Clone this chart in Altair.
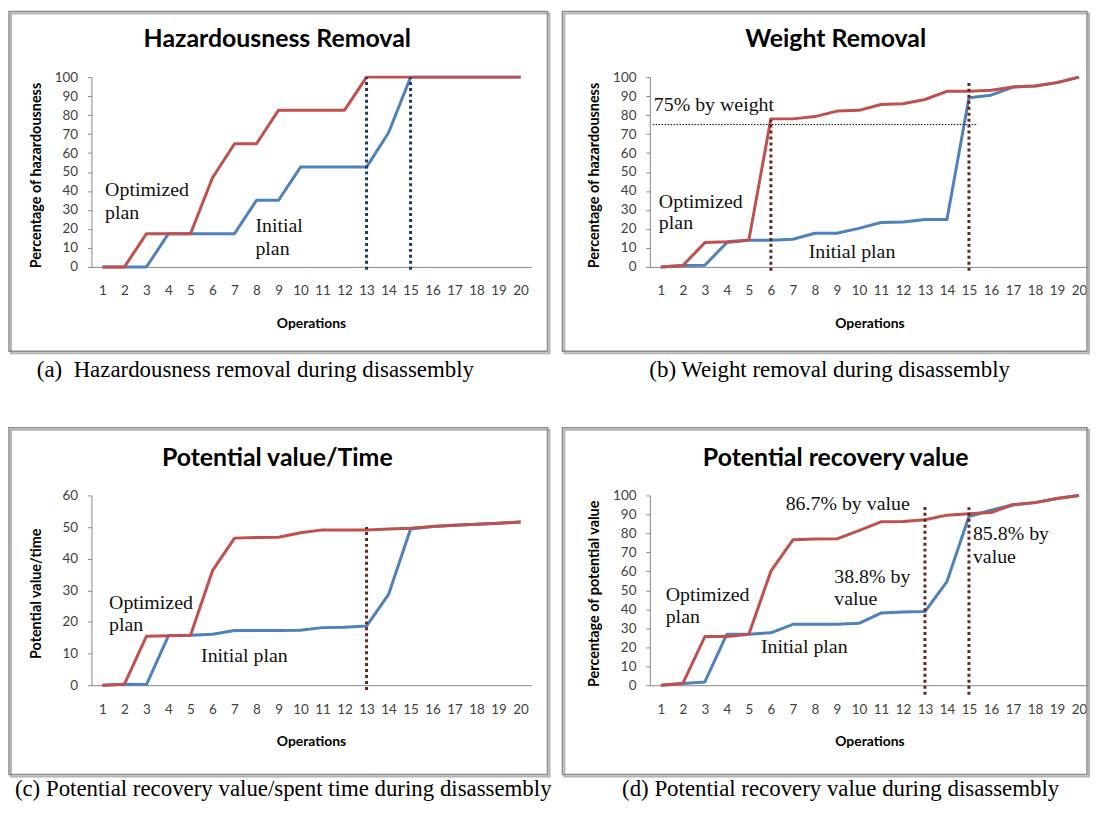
import altair as alt
import pandas as pd

# ---------------- data ----------------
ops = list(range(1, 21))

haz_optimized = [0, 0, 17.5, 17.5, 17.5, 47, 64.9, 64.9, 82.6, 82.6, 82.6, 82.6, 100, 100, 100, 100, 100, 100, 100, 100]
haz_initial = [0, 0, 0, 17.5, 17.5, 17.5, 17.5, 35.1, 35.1, 52.6, 52.6, 52.6, 52.6, 70.7, 100, 100, 100, 100, 100, 100]

weight_optimized = [0, 0.7, 12.8, 13.3, 14.2, 78, 78, 79.2, 82.1, 82.5, 85.6, 86, 88.2, 92.5, 92.5, 93.1, 94.8, 95.3, 97.1, 100]
weight_initial = [0, 0.7, 0.9, 12.8, 14, 14, 14.6, 17.7, 17.7, 20.3, 23.4, 23.7, 25, 25, 89.1, 90.5, 94.8, 95.3, 97.1, 100]

pvt_optimized = [0, 0.3, 15.5, 15.6, 15.8, 36.2, 46.5, 46.7, 46.8, 48.2, 49.1, 49.1, 49.1, 49.4, 49.6, 50.2, 50.6, 50.9, 51.2, 51.6]
pvt_initial = [0, 0.3, 0.2, 15.7, 15.8, 16.1, 17.3, 17.3, 17.3, 17.4, 18.2, 18.3, 18.7, 28.7, 49.4, 50.2, 50.6, 50.9, 51.2, 51.6]

prv_optimized = [0, 0.9, 25.6, 25.6, 26.9, 60.1, 76.6, 77, 77.1, 81.5, 86.1, 86.3, 87.2, 89.6, 90.3, 91, 95.1, 96.2, 98.4, 100]
prv_initial = [0, 0.9, 1.7, 26.9, 26.9, 27.6, 32.1, 32.1, 32.1, 32.6, 38, 38.6, 38.8, 54.6, 88.9, 92.2, 95.1, 96.2, 98.4, 100]

titles = ["Hazardousness Removal", "Weight Removal", "Potential value/Time", "Potential recovery value"]
y_titles = ["Percentage of hazardousness", "Percentage of hazardousness", "Potential value/time",
            "Percentage of potential value"]
x_title = "Operations"
captions = ["(a)\u00a0\u00a0Hazardousness removal during disassembly", "(b) Weight removal during disassembly",
            "(c) Potential recovery value/spent time during disassembly",
            "(d) Potential recovery value during disassembly"]

ann_a_text = ["Optimized", "plan", "Initial", "plan"]
ann_a_x = [1.12, 1.12, 7.95, 7.95]
ann_a_y = [40.7, 28.6, 21.7, 9.6]

ann_b_text = ["75% by weight", "Optimized", "plan", "Initial plan"]
ann_b_x = [0.68, 0.91, 0.91, 7.72]
ann_b_y = [85.4, 34, 23, 8]

ann_c_text = ["Optimized", "plan", "Initial plan"]
ann_c_x = [1.3, 1.3, 5.48]
ann_c_y = [26.1, 19.0, 9.3]

ann_d_text = ["86.7% by value", "85.8% by", "value", "38.8% by", "value", "Optimized", "plan", "Initial plan"]
ann_d_x = [6.67, 15.18, 15.18, 8.88, 8.88, 1.22, 1.22, 5.55]
ann_d_y = [95.3, 79.7, 67.7, 56.8, 45.3, 47.4, 35.9, 20.3]

vline_a_x, vline_a_top, vline_a_bottom = [13, 15], [100, 100], [-1.5, -1.5]
vline_b_x, vline_b_top, vline_b_bottom = [6, 15], [77.6, 98.4], [-2, -2]
vline_c_x, vline_c_top, vline_c_bottom = [13], [50], [-1.5]
vline_d_x, vline_d_top, vline_d_bottom = [13, 15], [94.8, 93.8], [-5, -5]

hline_b_x, hline_b_x2, hline_b_y = [0.63], [15.4], [75]

# ---------------- style ----------------
W, H = 443, 191
RED = "#C0504D"
BLUE = "#4F81BD"
GRID_GRAY = "#868686"
SERIF = "Liberation Serif"
SANS = "Lato"

dummy = pd.DataFrame({"k": [0]})


def panel(title, ytitle, caption, cap_x, opt, init, ymax, ann, vl, vcolor, col, row, hline=None):
    xs = alt.Scale(domain=[0.5, 20.5], nice=False, zero=False)
    ys = alt.Scale(domain=[0, ymax], nice=False)
    xa = alt.Axis(values=ops, title=None, ticks=False, tickSize=0, labelPadding=17, grid=False,
                  domainColor=GRID_GRAY, labelFont=SANS, labelFontSize=13.5, labelColor="#404040",
                  labelFlush=False, labelOverlap=False)
    ya = alt.Axis(values=list(range(0, ymax + 1, 10)), title=None, tickSize=4, tickColor=GRID_GRAY,
                  labelPadding=10, grid=False, domainColor=GRID_GRAY, labelFont=SANS, labelFontSize=13.5,
                  labelColor="#404040", format="d")
    X = alt.X("x:Q", scale=xs, axis=xa)
    Y = alt.Y("y:Q", scale=ys, axis=ya)

    if col == 0:
        bx0, bx1 = -83, 459
    else:
        bx0, bx1 = -88, 440
    if row == 0:
        by0, by1 = -66, 276
        cap_y = 295
    else:
        by0, by1 = -68, 281
        cap_y = 296

    shadow = alt.Chart(dummy).mark_rect(fillOpacity=0, stroke="#b4b4b4", strokeWidth=2).encode(
        x=alt.value(bx0 + 2), x2=alt.value(bx1 + 2), y=alt.value(by0 + 2), y2=alt.value(by1 + 2))
    box = alt.Chart(dummy).mark_rect(fillOpacity=0, stroke="#8a8a8a", strokeWidth=1.5).encode(
        x=alt.value(bx0), x2=alt.value(bx1), y=alt.value(by0), y2=alt.value(by1))

    df_init = pd.DataFrame({"x": ops, "y": init})
    df_opt = pd.DataFrame({"x": ops, "y": opt})
    line_init = alt.Chart(df_init).mark_line(color=BLUE, strokeWidth=3, strokeJoin="round").encode(x=X, y=Y)
    line_opt = alt.Chart(df_opt).mark_line(color=RED, strokeWidth=3, strokeJoin="round").encode(x=X, y=Y)

    vx, vtop, vbot = vl
    df_v = pd.DataFrame({"x": vx, "y": vbot, "y2": vtop})
    vrules = alt.Chart(df_v).mark_rule(color=vcolor, strokeWidth=3, strokeDash=[3, 3]).encode(
        x=X, y=Y, y2="y2:Q")

    tx, ty, tt = ann
    df_t = pd.DataFrame({"x": tx, "y": ty, "text": tt})
    texts = alt.Chart(df_t).mark_text(align="left", baseline="middle", font=SERIF, fontSize=20,
                                      color="#111111").encode(x=X, y=Y, text="text:N")

    t_title = alt.Chart(dummy).mark_text(text=title, font=SANS, fontSize=25, fontWeight="bold",
                                         color="#000000", align="center", baseline="middle").encode(
        x=alt.value(187), y=alt.value(-38))
    t_ytitle = alt.Chart(dummy).mark_text(text=ytitle, font=SANS, fontSize=14.5, fontWeight="bold",
                                          color="#000000", align="center", baseline="middle", angle=270).encode(
        x=alt.value(-55), y=alt.value(99))
    t_xtitle = alt.Chart(dummy).mark_text(text=x_title, font=SANS, fontSize=14, fontWeight="bold",
                                          color="#000000", align="center", baseline="middle").encode(
        x=alt.value(W / 2), y=alt.value(H + 57))
    t_cap = alt.Chart(dummy).mark_text(text=caption, font=SERIF, fontSize=23, color="#000000",
                                       align="center", baseline="middle").encode(
        x=alt.value(cap_x), y=alt.value(cap_y))

    layers = [shadow, box, line_init, line_opt, vrules]
    if hline is not None:
        hx, hx2, hy = hline
        df_h = pd.DataFrame({"x": hx, "x2": hx2, "y": hy})
        layers.append(alt.Chart(df_h).mark_rule(color="#000000", strokeWidth=1, strokeDash=[1.5, 1.5]).encode(
            x=X, x2="x2:Q", y=Y))
    layers += [texts, t_title, t_ytitle, t_xtitle, t_cap]
    return alt.layer(*layers).properties(width=W, height=H)


pa = panel(titles[0], y_titles[0], captions[0], 165, haz_optimized, haz_initial, 100,
           (ann_a_x, ann_a_y, ann_a_text), (vline_a_x, vline_a_top, vline_a_bottom), "#1F3864", 0, 0)
pb = panel(titles[1], y_titles[1], captions[1], 181, weight_optimized, weight_initial, 100,
           (ann_b_x, ann_b_y, ann_b_text), (vline_b_x, vline_b_top, vline_b_bottom), "#632523", 1, 0,
           hline=(hline_b_x, hline_b_x2, hline_b_y))
pc = panel(titles[2], y_titles[2], captions[2], 193, pvt_optimized, pvt_initial, 60,
           (ann_c_x, ann_c_y, ann_c_text), (vline_c_x, vline_c_top, vline_c_bottom), "#632523", 0, 1)
pd_ = panel(titles[3], y_titles[3], captions[3], 192, prv_optimized, prv_initial, 100,
            (ann_d_x, ann_d_y, ann_d_text), (vline_d_x, vline_d_top, vline_d_bottom), "#632523", 1, 1)

chart = alt.concat(pa, pb, pc, pd_, columns=2, spacing={"row": 230, "column": 119}, bounds="flush").properties(
    padding=0, background="white").configure_view(stroke=None)

chart.save("out.html", embed_options={"renderer": "svg", "actions": False})
